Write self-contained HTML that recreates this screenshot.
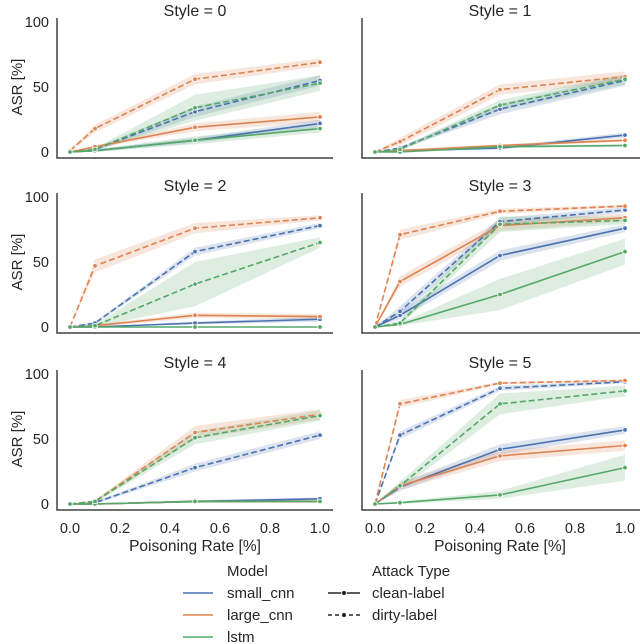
<!DOCTYPE html>
<html><head><meta charset="utf-8"><style>
html,body{margin:0;padding:0;background:#fff;}
svg{display:block;font-family:"Liberation Sans","DejaVu Sans",sans-serif;}
</style></head><body>
<svg id="chart" width="640" height="644" viewBox="0 0 640 644"></svg>
<script>
const xVals = [0, 0.1, 0.5, 1.0];
const models = ["small_cnn", "large_cnn", "lstm"];
const modelColors = ["#4c72b0", "#dd8452", "#55a868"];
const attackTypes = ["clean-label", "dirty-label"];
const yTicks = [0, 50, 100];
const xTicks = [0.0, 0.2, 0.4, 0.6, 0.8, 1.0];
const styles = [0, 1, 2, 3, 4, 5];
// values[style][model][attack] = ASR at xVals
const style0 = [[[0,1,9,22],[0,2,31,55]],[[0,4,19,27],[1,18,56,69]],[[0,1,9,18],[0,2,34,53]]];
const style1 = [[[0,1,3,13],[0,3,33,55]],[[0,1,5,9],[0,8,48,58]],[[0,0,4,5],[0,2,36,56]]];
const style2 = [[[0,0,3,6],[0,3,58,78]],[[0,1,9,8],[0,47,76,84]],[[0,0,0,0],[0,1,33,65]]];
const style3 = [[[0,9,55,76],[0,12,81,90]],[[0,35,78,84],[0,71,89,93]],[[0,2,25,58],[0,3,79,82]]];
const style4 = [[[0,0,2,4],[0,1,28,53]],[[0,0,2,2],[0,2,55,69]],[[0,0,2,2],[0,2,51,68]]];
const style5 = [[[0,13,42,57],[0,53,89,94]],[[0,14,37,45],[0,77,93,95]],[[0,1,7,28],[0,14,77,87]]];
// half-width of confidence band
const ci0 = [[[0,1,2,3],[0,1,4,4]],[[0,1,3,4],[1,3,4,3]],[[0,1,3,3],[0,1,10,6]]];
const ci1 = [[[0,1,1,2],[0,1,4,4]],[[0,1,1,1],[0,3,4,4]],[[0,0,1,1],[0,1,4,4]]];
const ci2 = [[[0,0,1,2],[0,1,3,2]],[[0,1,2,2],[0,5,4,2]],[[0,0,0,0],[0,1,17,4]]];
const ci3 = [[[0,3,4,3],[0,4,3,2]],[[0,4,4,3],[0,4,2,1]],[[0,1,12,10],[0,2,6,3]]];
const ci4 = [[[0,0,1,1],[0,1,3,3]],[[0,0,1,1],[0,1,5,4]],[[0,0,1,1],[0,1,5,4]]];
const ci5 = [[[0,3,4,3],[0,3,2,1]],[[0,3,4,4],[0,3,1,1]],[[0,1,3,10],[0,3,8,4]]];
const allVals = [style0, style1, style2, style3, style4, style5];
const allCi = [ci0, ci1, ci2, ci3, ci4, ci5];

const NS = "http://www.w3.org/2000/svg";
const svg = document.getElementById("chart");
function mk(tag, attrs, parent) {
  const e = document.createElementNS(NS, tag);
  for (const k in attrs) e.setAttribute(k, attrs[k]);
  (parent || svg).appendChild(e);
  return e;
}
const colX0 = [70, 375], colSpine = [57, 362], colEnd = [333, 640];
const rowY0 = [152, 327, 504];
const xW = 250, yH = 130;

styles.forEach((s, i) => {
  const col = i % 2, row = Math.floor(i / 2);
  const xs = v => colX0[col] + v * xW;
  const ys = v => rowY0[row] - v / 100 * yH;
  const g = mk("g", {});
  
  
  const t = mk("text", {x: (colX0[col] + xW / 2), y: rowY0[row] - 136, "text-anchor": "middle", "font-size": 16, fill: "#262626"}, g);
  t.textContent = "Style = " + s;
  
  
  const sp = mk("path", {d: `M${colSpine[col]},${rowY0[row]-134} V${rowY0[row]+6} H${colEnd[col]}`, fill: "none", stroke: "#404040", "stroke-width": 1.5}, g);
  
  
  if (col === 0) {
    yTicks.forEach(v => {
      const tt = mk("text", {x: 49, y: ys(v) + 5, "text-anchor": "end", "font-size": 14.5, fill: "#262626"}, g);
      tt.textContent = v;
      
      
    });
    const yl = mk("text", {transform: `translate(22,${ys(50)}) rotate(-90)`, "text-anchor": "middle", "font-size": 15, fill: "#262626"}, g);
    yl.textContent = "ASR [%]";
    
    
  }
  if (row === 2) {
    xTicks.forEach(v => {
      const tt = mk("text", {x: xs(v), y: rowY0[row] + 29, "text-anchor": "middle", "font-size": 14.5, fill: "#262626"}, g);
      tt.textContent = v.toFixed(1);
      
      
    });
    const xl = mk("text", {x: xs(0.5), y: rowY0[row] + 47, "text-anchor": "middle", "font-size": 15.5, fill: "#262626"}, g);
    xl.textContent = "Poisoning Rate [%]";
    
    
  }
  const vals = allVals[i], ci = allCi[i];
  models.forEach((m, mi) => {
    attackTypes.forEach((a, ai) => {
      const v = vals[mi][ai], c = ci[mi][ai];
      let d = "M" + xVals.map((x, k) => xs(x) + "," + ys(v[k] + c[k])).join(" L");
      d += " L" + xVals.map((x, k) => [x, k]).reverse().map(([x, k]) => xs(x) + "," + ys(Math.max(0, v[k] - c[k]))).join(" L") + " Z";
      const b = mk("path", {d, fill: modelColors[mi], "fill-opacity": 0.2, stroke: "none"}, g);
      
      
    });
  });
  models.forEach((m, mi) => {
    attackTypes.forEach((a, ai) => {
      const v = vals[mi][ai];
      const l = mk("polyline", {points: xVals.map((x, k) => xs(x) + "," + ys(v[k])).join(" "), fill: "none", stroke: modelColors[mi], "stroke-width": 1.6, "stroke-dasharray": ai ? "6,3" : "none"}, g);
      
      
      xVals.forEach((x, k) => {
        const p = mk("circle", {cx: xs(x), cy: ys(v[k]), r: 2.3, fill: modelColors[mi], stroke: "#fff", "stroke-width": 0.8}, g);
        
        
      });
    });
  });
});

const lg = mk("g", {});


function ltext(x, y, s, name) {
  const e = mk("text", {x, y, "font-size": 15, fill: "#262626"}, lg);
  e.textContent = s;
  
  
}
ltext(227, 576, "Model", "legend-title-model");
ltext(372, 576, "Attack Type", "legend-title-attack");
models.forEach((m, mi) => {
  const y = 593 + mi * 22;
  const l = mk("line", {x1: 183, x2: 213, y1: y, y2: y, stroke: modelColors[mi], "stroke-width": 1.6}, lg);
  
  
  ltext(227, y + 5, m, 'legend-label-' + m);
});
attackTypes.forEach((a, ai) => {
  const y = 593 + ai * 22;
  const l = mk("line", {x1: 328, x2: 360, y1: y, y2: y, stroke: "#262626", "stroke-width": 1.4, "stroke-dasharray": ai ? "4,3" : "none"}, lg);
  
  
  const c = mk("circle", {cx: 344, cy: y, r: 2.5, fill: "#262626", stroke: "#fff", "stroke-width": 0.8}, lg);
  
  
  ltext(372, y + 5, a, 'legend-label-' + a);
});
</script>
</body></html>
